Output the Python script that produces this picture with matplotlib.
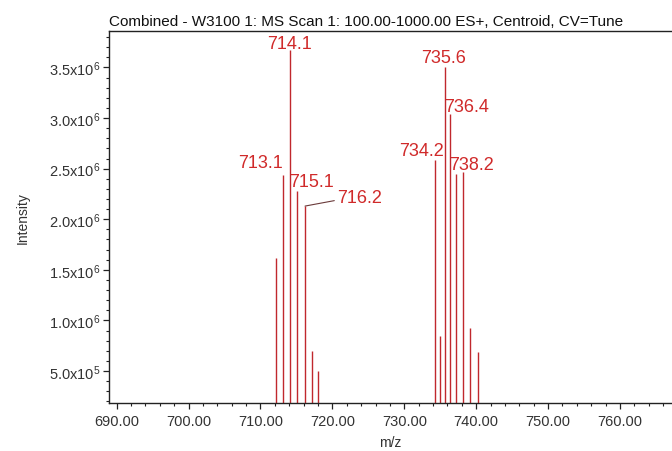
import math
import matplotlib
matplotlib.use("Agg")
import matplotlib.pyplot as plt
from matplotlib.ticker import MultipleLocator, FuncFormatter

plt.rcParams['font.family'] = ['Liberation Sans', 'DejaVu Sans']
plt.rcParams['mathtext.fontset'] = 'custom'
plt.rcParams['mathtext.rm'] = 'Liberation Sans'
plt.rcParams['mathtext.it'] = 'Liberation Sans'
plt.rcParams['mathtext.bf'] = 'Liberation Sans'

# ---- data ----
mz = [712.1, 713.1, 714.1, 715.1, 716.2, 717.1, 718.0,
      734.2, 735.0, 735.6, 736.4, 737.2, 738.2, 739.2, 740.2]
intensity = [1.62e6, 2.44e6, 3.67e6, 2.28e6, 2.13e6, 7.0e5, 5.0e5,
             2.59e6, 8.5e5, 3.50e6, 3.04e6, 2.45e6, 2.47e6, 9.3e5, 6.85e5]
peak_labels = ["713.1", "714.1", "715.1", "716.2", "734.2", "735.6", "736.4", "738.2"]
title = "Combined - W3100 1: MS Scan 1: 100.00-1000.00 ES+, Centroid, CV=Tune"
xlabel = "m/z"
ylabel = "Intensity"

# label placement (pixels offset from peak top): ha, dx, dy
label_style = {
    "713.1": ("right", 0, 8),
    "714.1": ("center", 0, 2),
    "715.1": ("left", -8, 5),
    "716.2": ("left", 32, 4),
    "734.2": ("right", 9, 5),
    "735.6": ("center", -1, 5),
    "736.4": ("left", -6, 3),
    "738.2": ("left", -14, 3),
}

line_color = '#c0282d'
text_color = '#d02a2a'

fig = plt.figure(figsize=(6.72, 4.52), dpi=100)
ax = fig.add_axes([109/672, 1-404/452, 1 - 109/672, (404-32)/452])

ymin = 1.84e5
ax.vlines(mz, ymin, intensity, colors=line_color, linewidth=1.0)
ax.set_xlim(688.93, 767.23)
ax.set_ylim(ymin, 3.86e6)

for lab in peak_labels:
    v = float(lab)
    i = min(range(len(mz)), key=lambda k: abs(mz[k] - v))
    ha, dx, dy = label_style[lab]
    kw = dict(textcoords='offset pixels', ha=ha, va='baseline',
              fontsize=13, color=text_color)
    if lab == "716.2":
        kw['arrowprops'] = dict(arrowstyle='-', color='#6a3a3a', lw=0.8,
                                shrinkA=0, shrinkB=0, relpos=(0, 0.35))
    ax.annotate(lab, xy=(mz[i], intensity[i]), xytext=(dx, dy), **kw)

ax.xaxis.set_major_locator(MultipleLocator(10))
ax.xaxis.set_minor_locator(MultipleLocator(2))
ax.yaxis.set_major_locator(MultipleLocator(5e5))
ax.yaxis.set_minor_locator(MultipleLocator(1e5))
ax.xaxis.set_major_formatter(FuncFormatter(lambda v, p: f"{v:.2f}"))

def yfmt(v, p):
    if v <= 0:
        return ""
    e = int(math.floor(math.log10(v) + 1e-9))
    m = v / 10**e
    return f"{m:.1f}x10$^{{{e}}}$"
ax.yaxis.set_major_formatter(FuncFormatter(yfmt))

ax.tick_params(axis='both', which='major', direction='out', length=4, width=0.9,
               labelsize=10.5, colors='#222222', labelcolor='#333333')
ax.tick_params(axis='both', which='minor', direction='out', length=2.5, width=0.8,
               colors='#222222')
ax.tick_params(axis='x', pad=4)
ax.tick_params(axis='y', pad=2)

for s in ['left', 'bottom', 'top']:
    ax.spines[s].set_linewidth(1.0)
    ax.spines[s].set_color('#222222')
ax.spines['right'].set_visible(False)

ax.set_xlabel(xlabel, fontsize=10, color='#333333', labelpad=5)
ax.set_ylabel(ylabel, fontsize=10, color='#333333', labelpad=14)
ax.set_title(title, fontsize=11, loc='left', pad=4, color='#111111')

fig.savefig("out.png", dpi=100)
